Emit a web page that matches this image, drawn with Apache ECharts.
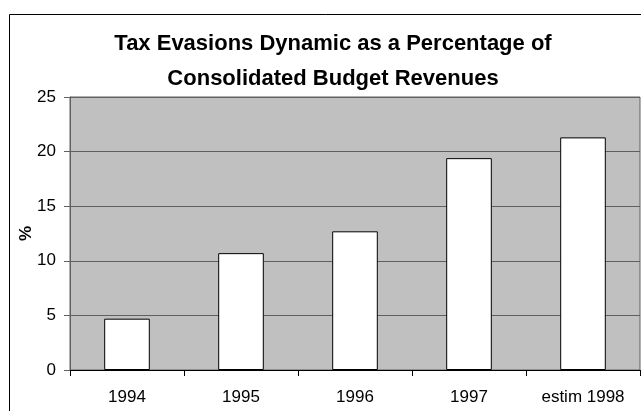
<!DOCTYPE html>
<html>
<head>
<meta charset="utf-8">
<script src="https://cdn.jsdelivr.net/npm/echarts@6/dist/echarts.min.js"></script>
<style>
  html, body { margin: 0; padding: 0; background: #ffffff; }
  #chart { width: 641px; height: 411px; }
</style>
</head>
<body>
<div id="chart"></div>
<script>
// Tax evasion as a share of consolidated budget revenues, by year
const categories = ['1994', '1995', '1996', '1997', 'estim 1998'];
const evasionPct = [4.7, 10.7, 12.7, 19.4, 21.3];
const yTicks = { min: 0, max: 25, step: 5 };

const FONT = '"Liberation Sans", Arial, sans-serif';
const chart = echarts.init(document.getElementById('chart'), null, { renderer: 'canvas' });

chart.setOption({
  backgroundColor: '#ffffff',
  animation: false,
  title: {
    text: 'Tax Evasions Dynamic as a Percentage of\nConsolidated Budget Revenues',
    left: 328,
    top: 21,
    textAlign: 'center',
    textStyle: {
      fontFamily: FONT,
      fontSize: 22,
      fontWeight: 'bold',
      color: '#000000',
      lineHeight: 35
    }
  },
  graphic: [
    {
      // outer chart frame
      type: 'rect',
      shape: { x: 9.5, y: 14.5, width: 700, height: 500 },
      style: { fill: 'none', stroke: '#000000', lineWidth: 1 },
      silent: true,
      z: -1
    }
  ],
  grid: {
    left: 70,
    right: 1,
    top: 97,
    bottom: 41,
    show: true,
    backgroundColor: '#c0c0c0',
    borderColor: '#606060',
    borderWidth: 1
  },
  xAxis: {
    type: 'category',
    data: categories,
    boundaryGap: true,
    axisLine: { show: true, lineStyle: { color: '#000000', width: 1 } },
    axisTick: { show: true, length: 6, alignWithLabel: false, lineStyle: { color: '#000000' } },
    axisLabel: { color: '#000000', fontFamily: FONT, fontSize: 17, margin: 19 },
    splitLine: { show: false }
  },
  yAxis: {
    type: 'value',
    min: yTicks.min,
    max: yTicks.max,
    interval: yTicks.step,
    name: '%',
    nameLocation: 'middle',
    nameGap: 35,
    nameRotate: 90,
    nameMoveOverlap: false,
    nameTextStyle: { color: '#000000', fontFamily: FONT, fontSize: 17, fontWeight: 'bold' },
    axisLine: { show: true, lineStyle: { color: '#606060', width: 1 } },
    axisTick: { show: true, length: 6, lineStyle: { color: '#606060' } },
    axisLabel: { color: '#000000', fontFamily: FONT, fontSize: 17, margin: 14 },
    splitLine: { show: true, lineStyle: { color: '#606060', width: 1 } }
  },
  series: [
    {
      type: 'bar',
      data: evasionPct,
      barWidth: '40%',
      itemStyle: { color: '#ffffff', borderColor: '#000000', borderWidth: 1 }
    }
  ]
});
</script>
</body>
</html>
